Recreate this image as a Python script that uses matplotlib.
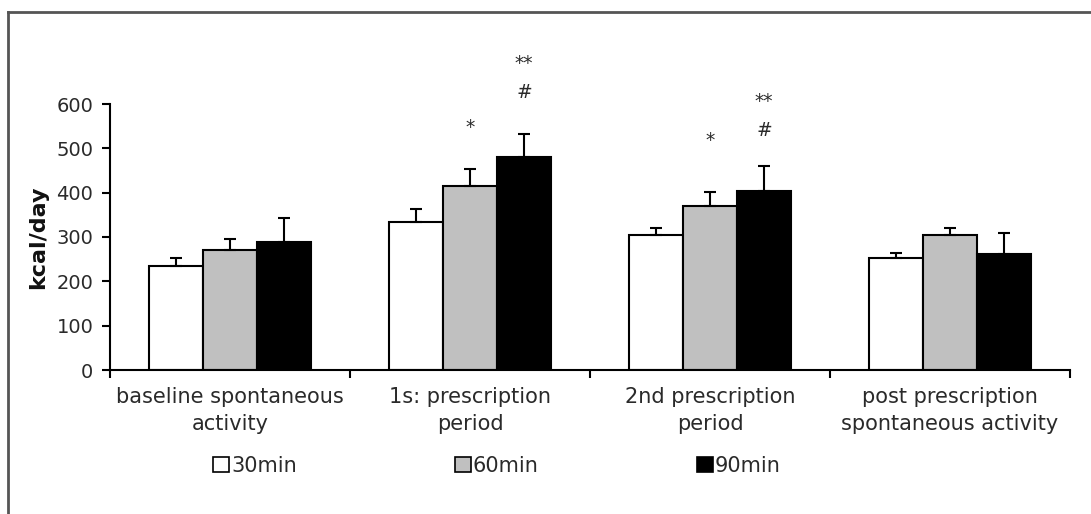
import matplotlib
matplotlib.use("Agg")
import matplotlib.pyplot as plt
import numpy as np
from matplotlib.patches import Patch
from matplotlib.lines import Line2D

categories = ["baseline spontaneous\nactivity", "1s: prescription\nperiod",
              "2nd prescription\nperiod", "post prescription\nspontaneous activity"]
series_names = ["30min", "60min", "90min"]
vals_30 = [235, 334, 305, 252]
vals_60 = [270, 415, 371, 305]
vals_90 = [288, 481, 404, 261]
err_30 = [17, 29, 16, 13]
err_60 = [25, 38, 31, 15]
err_90 = [54, 52, 57, 47]
yticks = [0, 100, 200, 300, 400, 500, 600]
# annotations: (category index, series index, text, y value)
annotations = [(1, 1, "*", 548), (1, 2, "**", 692), (1, 2, "#", 625),
               (2, 1, "*", 517), (2, 2, "**", 605), (2, 2, "#", 541)]

colors = ["white", "#c0c0c0", "black"]
txtcol = "#2a2a2a"

fig = plt.figure(figsize=(10.91, 5.14), dpi=100)
ax = fig.add_axes([110/1091, 1-370/514, 960/1091, 266/514])

x = np.arange(len(categories))
w = 0.225
allvals = [vals_30, vals_60, vals_90]
allerr = [err_30, err_60, err_90]
for i, (v, e) in enumerate(zip(allvals, allerr)):
    pos = x + (i - 1) * w
    ax.bar(pos, v, width=w, color=colors[i], edgecolor="black", linewidth=1.5, zorder=2)
    ax.errorbar(pos, v, yerr=[np.zeros(len(e)), e], fmt="none", ecolor="black",
                elinewidth=1.5, capsize=4.5, capthick=1.5, zorder=3)

for ci, si, t, yv in annotations:
    ax.text(ci + (si - 1) * w, yv, t, ha="center", va="center", fontsize=13.5,
            color=txtcol, clip_on=False)

ax.set_xlim(-0.5, len(categories) - 0.5)
ax.set_ylim(0, 600)
ax.set_yticks(yticks)
ax.set_yticklabels([str(t) for t in yticks])
ax.set_xticks(np.arange(len(categories) + 1) - 0.5)
ax.set_xticklabels([])
ax.set_xticks(x, minor=True)
ax.set_xticklabels(categories, minor=True, fontsize=15, color=txtcol, linespacing=1.45)
ax.tick_params(axis="x", which="minor", length=0, pad=12)
ax.tick_params(axis="x", which="major", length=6, width=1.5, direction="out")
ax.tick_params(axis="y", length=6, width=1.5, labelsize=14, labelcolor=txtcol, pad=6)
for s in ["top", "right"]:
    ax.spines[s].set_visible(False)
for s in ["left", "bottom"]:
    ax.spines[s].set_linewidth(1.5)
ax.set_ylabel("kcal/day", fontsize=16, fontweight="bold", color="#111111", labelpad=6)

handles = [Patch(facecolor=c, edgecolor="black", linewidth=1.2) for c in colors]
fig.legend(handles, series_names, loc="center", bbox_to_anchor=(497/1091, 1-466/514),
           ncol=3, frameon=False, fontsize=15, handlelength=0.75, handleheight=0.75,
           handletextpad=0.1, columnspacing=7.6, labelcolor=txtcol)

# outer frame lines (top and left)
fig.add_artist(Line2D([8/1091, 1.0], [1-12/514, 1-12/514], color="#555555", linewidth=2,
                      transform=fig.transFigure))
fig.add_artist(Line2D([8/1091, 8/1091], [0, 1-12/514], color="#555555", linewidth=2,
                      transform=fig.transFigure))

fig.savefig("out.png", dpi=100)
